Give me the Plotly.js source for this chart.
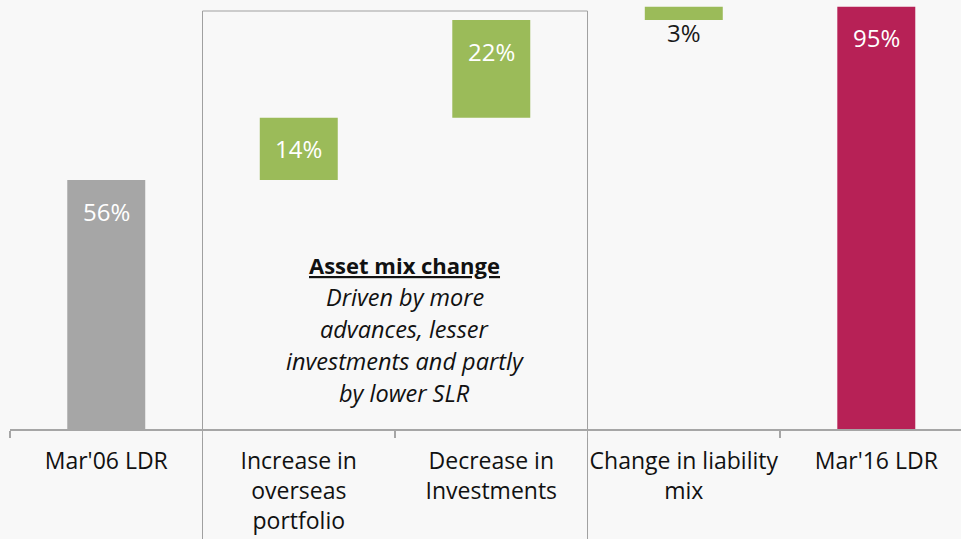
<!DOCTYPE html>
<html>
<head>
<meta charset="utf-8">
<script src="https://cdn.plot.ly/plotly-3.0.1.min.js"></script>
<style>html,body{margin:0;padding:0;background:#f8f8f8;}#chart{width:961px;height:539px;}</style>
</head>
<body>
<div id="chart"></div>
<script>
// ---- data ----
const categories = ["Mar'06 LDR", "Increase in overseas portfolio", "Decrease in Investments", "Change in liability mix", "Mar'16 LDR"];
const tickLabels = ["Mar'06 LDR", "Increase in<br>overseas<br>portfolio", "Decrease in<br>Investments", "Change in liability<br>mix", "Mar'16 LDR"];
const values = [56, 14, 22, 3, 95];
const measures = ["total", "relative", "relative", "relative", "total"];
const valueLabels = ["56%", "14%", "22%", "3%", "95%"];
const noteTitle = "Asset mix change";
const noteLines = ["Driven by more", "advances, lesser", "investments and partly", "by lower SLR"];

// ---- styles ----
const colStart = "#a6a6a6", colUp = "#9bbb59", colEnd = "#b72156";
const FONT = "Open Sans, sans-serif";
const plotH = 429;

// compute bar bases for the waterfall
const bases = [];
let running = 0;
values.forEach((v, i) => {
  if (measures[i] === "total") { bases.push(0); running = v; }
  else { bases.push(running); running += v; }
});
const colors = values.map((v, i) => i === 0 ? colStart : (i === values.length - 1 ? colEnd : colUp));

const trace = {
  type: "bar",
  x: categories,
  y: values,
  base: bases,
  width: 0.405,
  marker: { color: colors, line: { width: 0 } },
  hoverinfo: "skip"
};

const annotations = values.map((v, i) => {
  const small = v < 5;
  return {
    x: categories[i], xref: "x",
    y: small ? bases[i] : bases[i] + v, yref: "y",
    yanchor: "middle",
    text: valueLabels[i], showarrow: false,
    yshift: small ? -12 : -31,
    font: { family: FONT, size: 24, color: small ? "#1a1a1a" : "#ffffff" }
  };
});
annotations.push({
  x: 1.55, xref: "x", y: (plotH - 265) / plotH, yref: "paper", yanchor: "middle",
  showarrow: false,
  text: "<b><u>" + noteTitle + "</u></b>",
  font: { family: FONT, size: 22, color: "#111111" }
});
noteLines.forEach((t, i) => {
  annotations.push({
    x: 1.55, xref: "x", y: (plotH - (297 + 32 * i)) / plotH, yref: "paper", yanchor: "middle",
    showarrow: false,
    text: "<i>" + t + "</i>",
    font: { family: FONT, size: 23.5, color: "#111111" }
  });
});

const layout = {
  width: 961, height: 539,
  margin: { l: 10, r: 0, t: 0, b: 110 },
  paper_bgcolor: "#f8f8f8",
  plot_bgcolor: "rgba(0,0,0,0)",
  showlegend: false,
  xaxis: {
    type: "category",
    range: [-0.5, 4.44],
    tickvals: categories,
    ticktext: tickLabels,
    tickson: "boundaries",
    tickangle: 0,
    ticks: "outside", ticklen: 7, tickcolor: "#a6a6a6", tickwidth: 1.5,
    showline: true, linecolor: "#a6a6a6", linewidth: 1.5,
    showgrid: false, zeroline: false,
    ticklabelstandoff: 11,
    tickfont: { family: FONT, size: 23, color: "#111111" }
  },
  yaxis: {
    range: [0, 96.5],
    visible: false, showgrid: false, zeroline: false
  },
  shapes: [{
    type: "rect", xref: "x", yref: "paper",
    x0: 0.5, x1: 2.5, y0: -0.4, y1: (plotH - 11) / plotH,
    line: { color: "#a0a0a0", width: 1 }, fillcolor: "rgba(0,0,0,0)", layer: "below"
  }],
  annotations: annotations
};

Plotly.newPlot("chart", [trace], layout, { staticPlot: true, displayModeBar: false });
</script>
</body>
</html>
